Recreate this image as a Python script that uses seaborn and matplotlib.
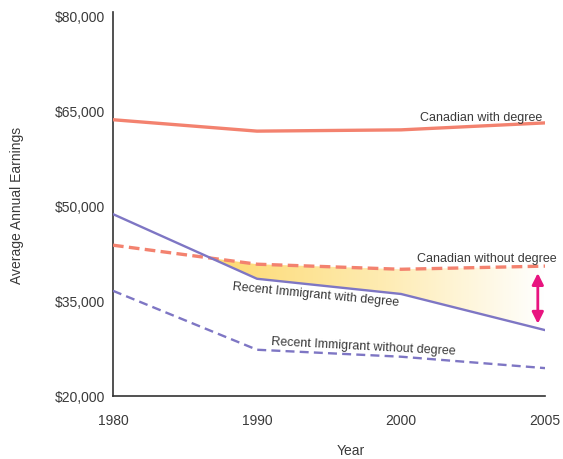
import numpy as np
import pandas as pd
import matplotlib
matplotlib.use("Agg")
import matplotlib.pyplot as plt
from matplotlib.colors import LinearSegmentedColormap
import seaborn as sns

years = ["1980", "1990", "2000", "2005"]
canadian_degree = [63600, 61800, 62000, 63100]
canadian_no_degree = [43800, 40800, 40000, 40500]
immigrant_degree = [48700, 38500, 36100, 30400]
immigrant_no_degree = [36600, 27300, 26200, 24400]
y_ticks = [20000, 35000, 50000, 65000, 80000]
y_tick_labels = ["$20,000", "$35,000", "$50,000", "$65,000", "$80,000"]

SALMON = "#F3826F"
PURPLE = "#7E76C4"
TEXT = "#3a3a3a"

sns.set_style("white")
plt.rcParams["font.family"] = ["Liberation Sans", "DejaVu Sans"]

xpos = np.arange(len(years))
df = pd.DataFrame({
    "x": xpos,
    "cd": canadian_degree,
    "cn": canadian_no_degree,
    "id": immigrant_degree,
    "in": immigrant_no_degree,
})

fig = plt.figure(figsize=(5.63, 4.60), dpi=100)
ax = fig.add_axes([113 / 563, 63 / 460, 432 / 563, 384 / 460])

# gradient band between Canadian without degree and immigrant with degree
a = np.array(canadian_no_degree, float)
b = np.array(immigrant_degree, float)
poly = ax.fill_between(xpos, a, b, where=a >= b, interpolate=True,
                       facecolor="none", edgecolor="none")
cross = (b[0] - a[0]) / ((b[0] - a[0]) - (b[1] - a[1]))
cmap = LinearSegmentedColormap.from_list("g", ["#FDD970", "#FEEBB0", "#FFFFFF"])
grad = np.linspace(0, 1, 256).reshape(1, -1)
im = ax.imshow(grad, extent=[cross, xpos[-1], 20000, 80000], aspect="auto",
               cmap=cmap, zorder=1, interpolation="bilinear")
im.set_clip_path(poly.get_paths()[0], transform=ax.transData)

sns.lineplot(data=df, x="x", y="cd", ax=ax, color=SALMON, lw=2.4, zorder=3)
sns.lineplot(data=df, x="x", y="cn", ax=ax, color=SALMON, lw=2.4, zorder=3)
ax.lines[-1].set_dashes((3.2, 1.6))
sns.lineplot(data=df, x="x", y="id", ax=ax, color=PURPLE, lw=1.7, zorder=3)
sns.lineplot(data=df, x="x", y="in", ax=ax, color=PURPLE, lw=1.7, zorder=3)
ax.lines[-1].set_dashes((3.8, 2.2))

ax.set_xlim(0, 3)
ax.set_ylim(20000, 80600)
ax.set_xticks(xpos)
ax.set_xticklabels(years)
ax.set_yticks(y_ticks)
ax.set_yticklabels(y_tick_labels)
ax.tick_params(axis="x", direction="in", length=8, width=1.1, color="#333333",
               pad=12, labelsize=10, labelcolor=TEXT)
ax.tick_params(axis="y", length=0, pad=5.5, labelsize=10, labelcolor=TEXT)
for s in ["top", "right"]:
    ax.spines[s].set_visible(False)
for s in ["left", "bottom"]:
    ax.spines[s].set_color("#333333")
    ax.spines[s].set_linewidth(1.2)

ax.set_xlabel("Year", fontsize=10, color=TEXT)
ax.set_ylabel("Average Annual Earnings", fontsize=10, color=TEXT)
ax.xaxis.set_label_coords(0.55, -0.123)
ax.yaxis.set_label_coords(-0.205, 0.5)

fs = 9
ax.text(2.98, 64100, "Canadian with degree", ha="right", va="center",
        fontsize=fs, color=TEXT, clip_on=False)
ax.text(3.08, 41700, "Canadian without degree", ha="right", va="center",
        fontsize=fs, color=TEXT, clip_on=False)
ax.text(1.41, 36100, "Recent Immigrant with degree", ha="center", va="center",
        fontsize=fs, color=TEXT, rotation=-5.5, rotation_mode="anchor")
ax.text(1.74, 27900, "Recent Immigrant without degree", ha="center", va="center",
        fontsize=fs, color=TEXT, rotation=-3, rotation_mode="anchor")

ax.annotate("", xy=(2.95, 31400), xytext=(2.95, 39400),
            arrowprops=dict(arrowstyle="<|-|>", color="#E8147F", lw=2.0,
                            mutation_scale=17, shrinkA=0, shrinkB=0), zorder=4)

fig.savefig("out.png", dpi=100)
